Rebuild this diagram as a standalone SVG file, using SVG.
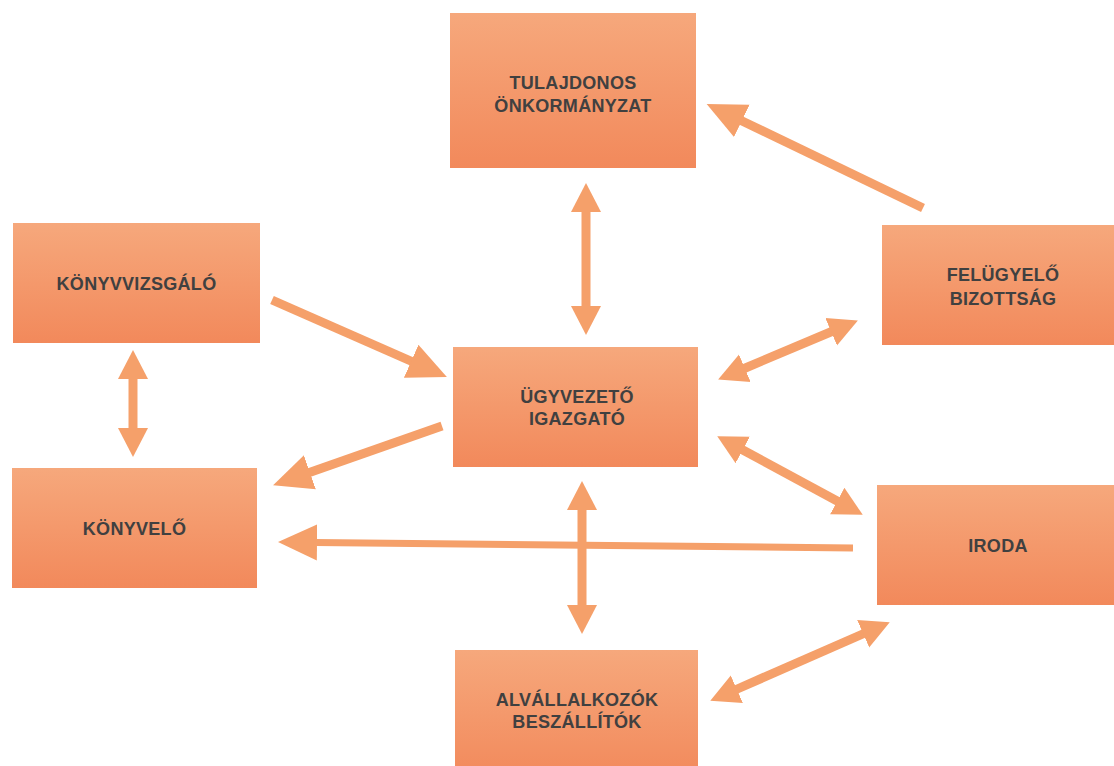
<svg xmlns="http://www.w3.org/2000/svg" width="1114" height="766" viewBox="0 0 1114 766">
<defs>
<linearGradient id="boxg" x1="0" y1="0" x2="0" y2="1">
<stop offset="0" stop-color="#f6a87c"/>
<stop offset="1" stop-color="#f2895b"/>
</linearGradient>
<marker id="hs" viewBox="0 -16 31 32" markerWidth="31" markerHeight="32" refX="2" refY="0" orient="auto-start-reverse" markerUnits="userSpaceOnUse">
<path d="M0,-15 L29,0 L0,15 Z" fill="#f5a06a"/>
</marker>
<marker id="hl" viewBox="0 -19 41 38" markerWidth="41" markerHeight="38" refX="2" refY="0" orient="auto-start-reverse" markerUnits="userSpaceOnUse">
<path d="M0,-18 L39,0 L0,18 Z" fill="#f5a06a"/>
</marker>
<style>
.box{fill:url(#boxg);}
.t{font-family:"Liberation Sans",Arial,sans-serif;font-size:18px;font-weight:bold;fill:#404040;text-anchor:middle;letter-spacing:0.3px;}
.c{stroke:#f5a06a;stroke-width:9;fill:none;}
.c2{stroke:#f5a06a;stroke-width:7;fill:none;}
</style>
</defs>
<rect width="1114" height="766" fill="#ffffff"/>
<g id="connectors">
<line class="c" x1="586" y1="210" x2="586" y2="308" marker-start="url(#hs)" marker-end="url(#hs)"/>
<line class="c" x1="923" y1="208" x2="740" y2="120" marker-end="url(#hl)"/>
<line class="c" x1="272" y1="300" x2="413" y2="362" marker-end="url(#hl)"/>
<line class="c" x1="442" y1="426" x2="308" y2="473" marker-end="url(#hl)"/>
<line class="c2" x1="853" y1="548" x2="315" y2="542.4" marker-end="url(#hl)"/>
<line class="c" x1="833" y1="331" x2="743" y2="369" marker-start="url(#hs)" marker-end="url(#hs)"/>
<line class="c" x1="741" y1="449" x2="839" y2="502" marker-start="url(#hs)" marker-end="url(#hs)"/>
<line class="c" x1="582" y1="508" x2="582" y2="607" marker-start="url(#hs)" marker-end="url(#hs)"/>
<line class="c" x1="865" y1="633" x2="735" y2="690" marker-start="url(#hs)" marker-end="url(#hs)"/>
<line class="c" x1="133" y1="377" x2="133" y2="430" marker-start="url(#hs)" marker-end="url(#hs)"/>
</g>
<g id="tulajdonos">
<rect class="box" x="450" y="13" width="246" height="155"/>
<text class="t" x="573" y="89">TULAJDONOS</text>
<text class="t" x="573" y="112">ÖNKORMÁNYZAT</text>
</g>
<g id="konyvvizsgalo">
<rect class="box" x="13" y="223" width="247" height="120"/>
<text class="t" x="136.5" y="290">KÖNYVVIZSGÁLÓ</text>
</g>
<g id="konyvelo">
<rect class="box" x="12" y="468" width="245" height="120"/>
<text class="t" x="134.5" y="535">KÖNYVELŐ</text>
</g>
<g id="ugyvezeto">
<rect class="box" x="453" y="347" width="245" height="120"/>
<text class="t" x="577" y="403">ÜGYVEZETŐ</text>
<text class="t" x="577" y="425">IGAZGATÓ</text>
</g>
<g id="alvallalkozok">
<rect class="box" x="455" y="650" width="243" height="130"/>
<text class="t" x="577" y="706">ALVÁLLALKOZÓK</text>
<text class="t" x="577" y="728">BESZÁLLÍTÓK</text>
</g>
<g id="felugyelo">
<rect class="box" x="882" y="225" width="240" height="120"/>
<text class="t" x="1003" y="281">FELÜGYELŐ</text>
<text class="t" x="1003" y="305">BIZOTTSÁG</text>
</g>
<g id="iroda">
<rect class="box" x="877" y="485" width="245" height="120"/>
<text class="t" x="998" y="552">IRODA</text>
</g>
</svg>
